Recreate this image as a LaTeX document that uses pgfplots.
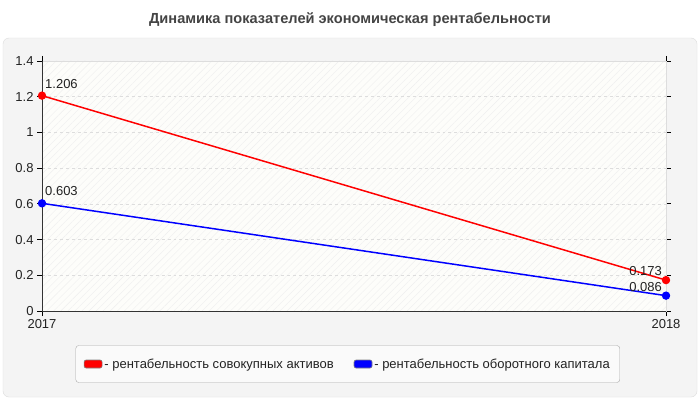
\documentclass[border=0pt]{standalone}
\usepackage{fontspec}
\setmainfont{Liberation Sans}
\usepackage{pgfplots}
\pgfplotsset{compat=1.18}
\usetikzlibrary{patterns.meta}

\definecolor{panelbg}{HTML}{F4F4F4}
\definecolor{panelline}{HTML}{DDDDDD}
\definecolor{titlegray}{HTML}{444444}
\definecolor{plotbg}{HTML}{FDFDFA}
\definecolor{hatch}{HTML}{EFEFEF}
\definecolor{gridgray}{HTML}{DDDDDD}
\definecolor{legbg}{HTML}{FAFAFA}
\definecolor{legline}{HTML}{AAAAAA}
\definecolor{txt}{HTML}{222222}

\newcommand{\fs}{\fontsize{13bp}{15bp}\selectfont}

\begin{document}
\begin{tikzpicture}[x=1bp,y=1bp]
% page and panel
\fill[white] (0,0) rectangle (700,400);
\draw[panelline, fill=panelbg, rounded corners=6bp] (3,3) rectangle (697,362);
\node[font=\bfseries\fontsize{14.6bp}{17bp}\selectfont, text=titlegray] at (350,380) {Динамика показателей экономическая рентабельности};

\begin{axis}[
    at={(42bp,89bp)}, anchor=south west,
    scale only axis,
    width=624bp, height=250bp,
    xmin=2017, xmax=2018,
    ymin=0, ymax=1.4,
    xtick={2017,2018},
    ytick={0,0.2,...,1.4},
    x tick label style={/pgf/number format/1000 sep={}},
    /pgf/number format/assume math mode=true,
    tick label style={font=\fs, text=txt},
    tick align=outside,
    major tick length=5bp,
    tick style={black, line width=0.8pt},
    axis line style={draw=panelline},
    ymajorgrids=true,
    grid style={gridgray, dashed, line width=0.6pt},
    axis background/.style={preaction={fill=plotbg},
        pattern={Lines[angle=45,distance=5bp,line width=0.4bp]}, pattern color=hatch},
    clip=false,
    legend columns=2,
    legend cell align=left,
    legend style={
        at={(0.49,-0.212)}, anchor=center,
        draw=legline, fill=legbg, rounded corners=3bp,
        font=\fs, text=txt,
        inner xsep=8bp, inner ysep=11bp,
        /tikz/every even column/.append style={column sep=18bp},
    },
]
\addplot[red, line width=1.5pt, mark=*, mark size=3.4bp,
    legend image code/.code={\draw[draw=gray, fill=red, rounded corners=2bp, line width=0.6pt] (0bp,-4bp) rectangle (18bp,4bp);}]
    coordinates {(2017,1.206) (2018,0.173)};
\addlegendentry{- рентабельность совокупных активов}
\addplot[blue, line width=1.5pt, mark=*, mark size=3.4bp,
    legend image code/.code={\draw[draw=gray, fill=blue, rounded corners=2bp, line width=0.6pt] (0bp,-4bp) rectangle (18bp,4bp);}]
    coordinates {(2017,0.603) (2018,0.086)};
\addlegendentry{- рентабельность оборотного капитала}

% axis lines on left and bottom
\draw[black!80, line width=0.8pt] (rel axis cs:0,0) -- (rel axis cs:0,1);
\draw[black!80, line width=0.8pt] (rel axis cs:0,0) -- (rel axis cs:1,0);

% value labels
\node[anchor=south west, font=\fs, text=txt, inner sep=1bp] at (axis cs:2017,1.206) [xshift=2bp,yshift=6bp] {1.206};
\node[anchor=south west, font=\fs, text=txt, inner sep=1bp] at (axis cs:2017,0.603) [xshift=2bp,yshift=6bp] {0.603};
\node[anchor=south east, font=\fs, text=txt, inner sep=1bp] at (axis cs:2018,0.173) [xshift=-3bp,yshift=3bp] {0.173};
\node[anchor=south east, font=\fs, text=txt, inner sep=1bp] at (axis cs:2018,0.086) [xshift=-3bp,yshift=3bp] {0.086};
\end{axis}
\end{tikzpicture}
\end{document}
